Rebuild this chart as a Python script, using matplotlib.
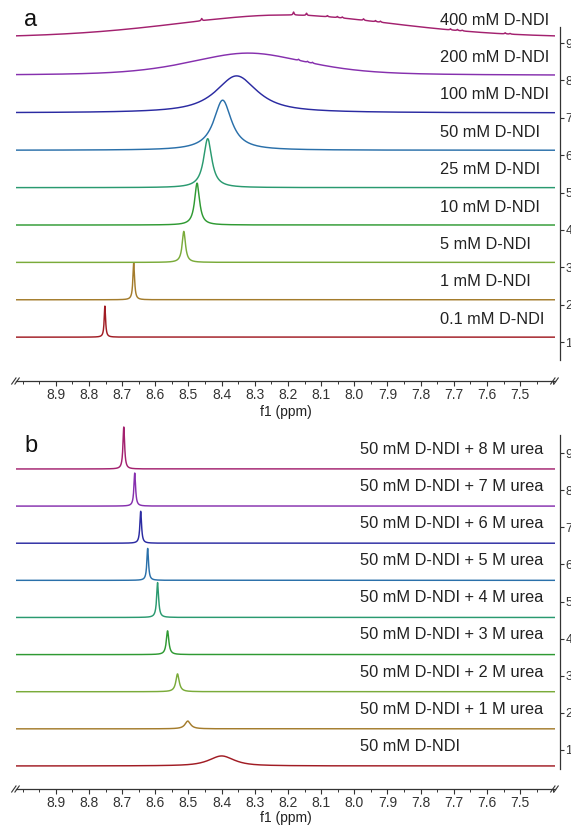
import numpy as np
import matplotlib
matplotlib.use("Agg")
import matplotlib.pyplot as plt
import matplotlib.transforms as mtrans

plt.rcParams['font.family'] = ['Liberation Sans', 'DejaVu Sans']

# ---------------- data ----------------
colors = ['#a11c24', '#a47c2c', '#7aab3a', '#2f9a33', '#2a9a70',
          '#2a70aa', '#2b2ba2', '#8630ae', '#a3216f']

labels_a = ['0.1 mM D-NDI', '1 mM D-NDI', '5 mM D-NDI', '10 mM D-NDI',
            '25 mM D-NDI', '50 mM D-NDI', '100 mM D-NDI', '200 mM D-NDI',
            '400 mM D-NDI']
centers_a = [8.752, 8.665, 8.514, 8.474, 8.442, 8.397, 8.355, 8.32, 8.21]
widths_a = [0.005, 0.006, 0.012, 0.018, 0.03, 0.065, 0.15, 0.42, 0.80]
heights_a = [0.83, 0.99, 0.83, 1.12, 1.31, 1.34, 0.99, 0.60, 0.62]
lorentz_frac_a = [1, 1, 1, 1, 1, 1, 0.9, 0.5, 0.3]

# small spurious spikes on the broad 400 mM (trace 9) and 200 mM (trace 8) spectra
spike_trace = [9, 9, 9, 9, 9, 9, 9, 9, 9, 9, 9, 9, 9, 9, 8, 8, 8]
spike_ppm = [8.460, 8.183, 8.144, 8.081, 8.051, 8.036, 7.972, 7.936, 7.921,
             7.710, 7.689, 7.674, 7.545, 7.530, 8.168, 8.141, 8.126]
spike_height = [0.06, 0.08, 0.06, 0.03, 0.03, 0.03, 0.04, 0.03, 0.03,
                0.03, 0.03, 0.02, 0.03, 0.02, 0.03, 0.025, 0.025]

labels_b = ['50 mM D-NDI', '50 mM D-NDI + 1 M urea', '50 mM D-NDI + 2 M urea',
            '50 mM D-NDI + 3 M urea', '50 mM D-NDI + 4 M urea',
            '50 mM D-NDI + 5 M urea', '50 mM D-NDI + 6 M urea',
            '50 mM D-NDI + 7 M urea', '50 mM D-NDI + 8 M urea']
centers_b = [8.400, 8.502, 8.533, 8.563, 8.593, 8.623, 8.644, 8.662, 8.695]
widths_b = [0.09, 0.02, 0.012, 0.009, 0.007, 0.006, 0.006, 0.006, 0.006]
heights_b = [0.27, 0.21, 0.48, 0.64, 0.94, 0.86, 0.86, 0.89, 1.13]
lorentz_frac_b = [0.8, 1, 1, 1, 1, 1, 1, 1, 1]

trace_index = [1, 2, 3, 4, 5, 6, 7, 8, 9]
xticks_major = [8.9, 8.8, 8.7, 8.6, 8.5, 8.4, 8.3, 8.2, 8.1, 8.0, 7.9, 7.8, 7.7, 7.6, 7.5]
xlim = (9.02, 7.395)

# ---------------- helpers ----------------
ppm = np.linspace(xlim[1], xlim[0], 8000)


def pv(x, c, w, h, eta):
    L = 1.0 / (1.0 + ((x - c) / (w / 2.0)) ** 2)
    G = np.exp(-4 * np.log(2) * ((x - c) / w) ** 2)
    return h * (eta * L + (1 - eta) * G)


W, H = 571, 826
fig = plt.figure(figsize=(W / 100, H / 100), dpi=100)


def make_panel(top_px, axis_px, tick9_px, tick1_px, base_shift, spine_top_px,
               spine_bot_px, centers, widths, heights, etas, labels, label_x_px,
               label_dy, letter, letter_y_px, spikes=None, xlabelpad=2.0):
    left_px, right_px = 16, 555
    ax = fig.add_axes([left_px / W, 1 - axis_px / H, (right_px - left_px) / W,
                       (axis_px - top_px) / H])
    ax.patch.set_visible(False)
    u = (tick1_px - tick9_px) / 8.0
    ytop = 9 + (tick9_px - top_px) / u
    ybot = 1 - (axis_px - tick1_px) / u
    ax.set_ylim(ybot, ytop)
    ax.set_xlim(*xlim)
    tr = mtrans.blended_transform_factory(fig.transFigure, ax.transData)
    for i, c, w, h, e, col, lab in zip(trace_index, centers, widths, heights,
                                       etas, colors, labels):
        base = i + base_shift
        y = base + pv(ppm, c, w, h, e)
        if spikes is not None:
            for st, sp, sh in zip(*spikes):
                if st == i:
                    y = y + pv(ppm, sp, 0.004, sh, 1.0)
        ax.plot(ppm, y, color=col, lw=1.05, solid_joinstyle='round')
        ax.text(label_x_px / W, base + label_dy, lab, transform=tr,
                fontsize=11.8, color='#222222', ha='left', va='center')
    for s in ['top', 'left']:
        ax.spines[s].set_visible(False)
    ax.spines['bottom'].set_linewidth(0.9)
    ax.spines['bottom'].set_color('#333333')
    ax.spines['right'].set_position(('outward', 3.6))
    ax.spines['right'].set_linewidth(0.9)
    ax.spines['right'].set_color('#333333')
    ax.spines['right'].set_bounds(1 - (spine_bot_px - tick1_px) / u,
                                  9 + (tick9_px - spine_top_px) / u)
    ax.yaxis.tick_right()
    ax.set_yticks(trace_index)
    ax.set_yticklabels([str(i) for i in trace_index])
    ax.tick_params(axis='y', direction='out', length=3, width=0.8, pad=1,
                   labelsize=9, colors='#333333')
    ax.set_xticks(xticks_major)
    ax.set_xticklabels([f'{t:.1f}' for t in xticks_major])
    minor = np.round(np.arange(7.4, 9.05, 0.05), 3)
    minor = [m for m in minor if xlim[1] < m < xlim[0]]
    ax.set_xticks(minor, minor=True)
    ax.tick_params(axis='x', which='major', direction='out', length=3.5,
                   width=0.8, pad=1.5, labelsize=10, colors='#333333')
    ax.tick_params(axis='x', which='minor', direction='out', length=2,
                   width=0.7, colors='#333333')
    ax.set_xlabel('f1 (ppm)', fontsize=10, labelpad=xlabelpad, color='#222222')
    # axis break marks
    for xa in (0.0, 1.0):
        for dx in (-0.004, 0.002):
            ax.plot([xa + dx - 0.004, xa + dx + 0.004], [-0.008, 0.008],
                    transform=ax.transAxes, color='#333333', lw=0.8,
                    clip_on=False)
    fig.text(24 / W, 1 - letter_y_px / H, letter, fontsize=17, ha='left',
             va='center', color='#111111')
    return ax


make_panel(0, 381, 43, 342, 0.13, 27, 360, centers_a, widths_a, heights_a,
           lorentz_frac_a, labels_a, 440, 0.48, 'a', 20,
           spikes=(spike_trace, spike_ppm, spike_height))
make_panel(410, 789, 453, 750, -0.43, 435, 769, centers_b, widths_b, heights_b,
           lorentz_frac_b, labels_b, 360, 0.53, 'b', 446, xlabelpad=0.5)

fig.savefig('out.png', dpi=100)
